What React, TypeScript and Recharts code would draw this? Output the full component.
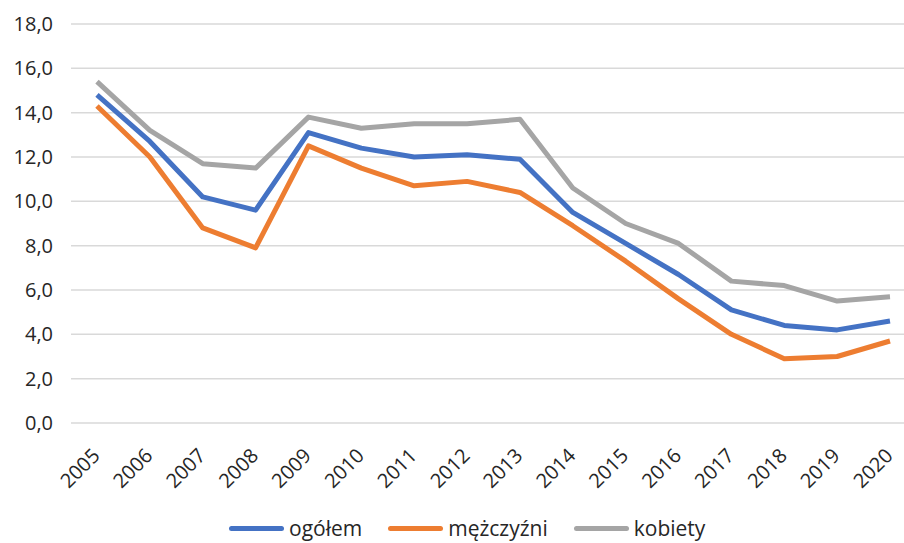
import { LineChart, Line, XAxis, YAxis, CartesianGrid } from 'recharts'

const years = ['2005', '2006', '2007', '2008', '2009', '2010', '2011', '2012', '2013', '2014', '2015', '2016', '2017', '2018', '2019', '2020']
const ogolem = [14.8, 12.7, 10.2, 9.6, 13.1, 12.4, 12.0, 12.1, 11.9, 9.5, 8.1, 6.7, 5.1, 4.4, 4.2, 4.6]
const mezczyzni = [14.3, 12.0, 8.8, 7.9, 12.5, 11.5, 10.7, 10.9, 10.4, 8.9, 7.3, 5.6, 4.0, 2.9, 3.0, 3.7]
const kobiety = [15.4, 13.2, 11.7, 11.5, 13.8, 13.3, 13.5, 13.5, 13.7, 10.6, 9.0, 8.1, 6.4, 6.2, 5.5, 5.7]
const yTicks = [0, 2, 4, 6, 8, 10, 12, 14, 16, 18]

const SERIES = [
    { key: 'ogolem', label: 'ogółem', color: '#4472C4' },
    { key: 'mezczyzni', label: 'mężczyźni', color: '#ED7D31' },
    { key: 'kobiety', label: 'kobiety', color: '#A5A5A5' },
]

const FONT = '"Open Sans", sans-serif'

const data = years.map((year, i) => ({
    year,
    ogolem: ogolem[i],
    mezczyzni: mezczyzni[i],
    kobiety: kobiety[i],
}))

const fmt = (v: number) => v.toFixed(1).replace('.', ',')

function YearTick({ x, y, payload }: any) {
    return (
        <g transform={`translate(${x + 4},${y + 26})`}>
            <text x={0} y={0} textAnchor="end" transform="rotate(-45)" fill="#262626" fontSize={20} fontFamily={FONT}>
                {payload.value}
            </text>
        </g>
    )
}

export default function App() {
    return (
        <div style={{ position: 'relative', width: 904, height: 543, overflow: 'hidden', background: '#fff' }}>
            <style>{'html, body { margin: 0; padding: 0; overflow: hidden; }'}</style>
            <LineChart
                width={930}
                height={543}
                data={data}
                margin={{ top: 24, right: 14, bottom: 0, left: 0 }}
            >
                <CartesianGrid vertical={false} stroke="#d9d9d9" strokeWidth={1.5} />
                <XAxis
                    dataKey="year"
                    axisLine={false}
                    tickLine={false}
                    height={120}
                    interval={0}
                    padding={{ left: 26, right: 26 }}
                    tick={<YearTick />}
                />
                <YAxis
                    domain={[0, 18]}
                    ticks={yTicks}
                    width={71}
                    axisLine={false}
                    tickLine={false}
                    tickSize={0}
                    tickMargin={18}
                    tickFormatter={fmt}
                    tick={{ fill: '#262626', fontSize: 20, fontFamily: FONT }}
                />
                {SERIES.map(s => (
                    <Line
                        key={s.key}
                        type="linear"
                        dataKey={s.key}
                        stroke={s.color}
                        strokeWidth={5}
                        strokeLinejoin="round"
                        dot={false}
                        activeDot={false}
                        isAnimationActive={false}
                    />
                ))}
            </LineChart>
            {/* legend below the axis, lines + labels */}
            <div
                style={{
                    position: 'absolute',
                    top: 518,
                    left: 0,
                    width: 904,
                    display: 'flex',
                    gap: 26,
                    paddingLeft: 229,
                    boxSizing: 'border-box',
                    fontFamily: FONT,
                    fontSize: 21,
                    lineHeight: '21px',
                    color: '#262626',
                }}
            >
                {SERIES.map(s => (
                    <div key={s.key} style={{ display: 'flex', alignItems: 'center', gap: 5 }}>
                        <div style={{ width: 55, height: 5, borderRadius: 3, background: s.color }} />
                        <span>{s.label}</span>
                    </div>
                ))}
            </div>
        </div>
    )
}
